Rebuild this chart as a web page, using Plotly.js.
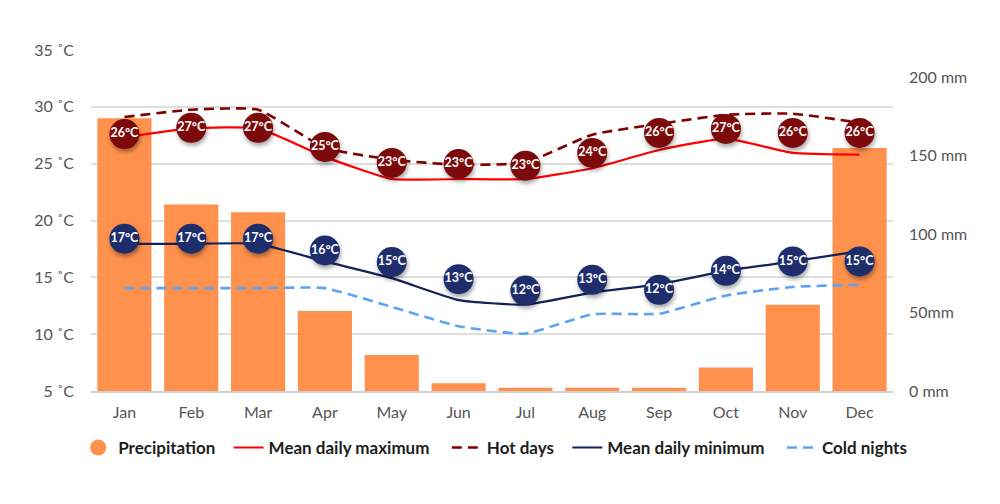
<!DOCTYPE html>
<html>
<head>
<meta charset="utf-8">
<script src="https://cdn.plot.ly/plotly-3.0.1.min.js"></script>
<style>
  html, body { margin: 0; padding: 0; background: #fff; }
  #chart { width: 1000px; height: 504px; }
</style>
</head>
<body>
<div id="chart"></div>
<script>
// ---- data ----
const months = ['Jan','Feb','Mar','Apr','May','Jun','Jul','Aug','Sep','Oct','Nov','Dec'];
const precipitation = [174, 119, 114, 51, 23, 5, 2, 2, 2, 15, 55, 155];            // mm
const meanDailyMax = [27.3, 28.1, 28.1, 25.6, 23.65, 23.65, 23.65, 24.6, 26.2, 27.2, 25.95, 25.8];
const hotDays      = [29.1, 29.75, 29.75, 26.4, 25.35, 24.9, 25.1, 27.55, 28.5, 29.3, 29.4, 28.6];
const meanDailyMin = [17.95, 17.95, 17.95, 16.4, 14.93, 13.0, 12.6, 13.66, 14.4, 15.57, 16.4, 17.3];
const coldNights   = [14.05, 14.05, 14.05, 14.05, 12.4, 10.7, 10.05, 11.75, 11.8, 13.4, 14.15, 14.35];
// badge values (rounded labels) and where the badges sit (°C)
const maxLabels = [26, 27, 27, 25, 23, 23, 23, 24, 26, 27, 26, 26];
const maxBadgeY = [27.6, 28.15, 28.15, 26.47, 25.06, 24.97, 24.82, 25.94, 27.7, 28.06, 27.7, 27.7];
const minLabels = [17, 17, 17, 16, 15, 13, 12, 13, 12, 14, 15, 15];
const minBadgeY = [18.4, 18.4, 18.4, 17.36, 16.34, 14.84, 13.84, 14.78, 13.9, 15.57, 16.4, 16.4];
// axis ticks
const tempTicks = [5, 10, 15, 20, 25, 30, 35];
const tempTickText = ['5 ˚C', '10 ˚C', '15 ˚C', '20 ˚C', '25 ˚C', '30 ˚C', '35 ˚C'];
const precipTicks = [0, 50, 100, 150, 200];
const precipTickText = ['0 mm', '50mm', '100 mm', '150 mm', '200 mm'];

const FONT = 'Lato, "Open Sans", sans-serif';
const C = {
  bar: '#FF914D', max: '#FF0000', hot: '#800000', min: '#14215A', cold: '#5BA4F2',
  badgeMax: '#7D0A0A', badgeMin: '#1E2D6B', tick: '#555555', grid: '#DEDEDE'
};
const NB = '\u00a0';
const SMOOTH = 0.45;

const traces = [
  { type: 'bar', x: months, y: precipitation, yaxis: 'y', name: 'Precipitation',
    marker: { color: C.bar }, showlegend: false, legendgroup: 'p', hoverinfo: 'x+y' },
  { type: 'scatter', mode: 'markers', x: [null], y: [null], yaxis: 'y', name: 'Precipitation' + NB + NB,
    marker: { color: C.bar, size: 16, symbol: 'circle' }, legendgroup: 'p' },
  { type: 'scatter', mode: 'lines', x: months, y: meanDailyMax, yaxis: 'y2', name: 'Mean daily maximum' + NB + NB + NB,
    line: { color: C.max, width: 2.2, shape: 'spline', smoothing: SMOOTH } },
  { type: 'scatter', mode: 'lines', x: months, y: hotDays, yaxis: 'y2', name: 'Hot days' + NB + NB,
    line: { color: C.hot, width: 2.6, shape: 'spline', smoothing: SMOOTH, dash: '10px,6px' } },
  { type: 'scatter', mode: 'lines', x: months, y: meanDailyMin, yaxis: 'y2', name: 'Mean daily minimum' + NB + NB + NB,
    line: { color: C.min, width: 2.2, shape: 'spline', smoothing: SMOOTH } },
  { type: 'scatter', mode: 'lines', x: months, y: coldNights, yaxis: 'y2', name: 'Cold nights',
    line: { color: C.cold, width: 2.6, shape: 'spline', smoothing: SMOOTH, dash: '10px,6px' } },
  { type: 'scatter', mode: 'markers+text', x: months, y: maxBadgeY, yaxis: 'y2', showlegend: false,
    text: maxLabels.map(v => v + '°C'), textposition: 'middle center',
    textfont: { family: FONT, size: 12.5, color: '#FFFFFF', weight: 'bold' },
    marker: { color: C.badgeMax, size: 30, line: { width: 0 } }, hoverinfo: 'text' },
  { type: 'scatter', mode: 'markers+text', x: months, y: minBadgeY, yaxis: 'y2', showlegend: false,
    text: minLabels.map(v => v + '°C'), textposition: 'middle center',
    textfont: { family: FONT, size: 12.5, color: '#FFFFFF', weight: 'bold' },
    marker: { color: C.badgeMin, size: 30, line: { width: 0 } }, hoverinfo: 'text' }
];

const layout = {
  width: 1000, height: 504,
  margin: { l: 91, r: 107, t: 50, b: 113, pad: 0 },
  paper_bgcolor: '#FFFFFF', plot_bgcolor: '#FFFFFF',
  font: { family: FONT, color: C.tick, size: 16 },
  bargap: 0.19,
  showlegend: true,
  legend: {
    orientation: 'h', x: -0.016, xanchor: 'left', y: -0.167, yanchor: 'middle',
    font: { family: FONT, size: 17, color: '#1E1E1E', weight: 'bold' },
    bgcolor: 'rgba(0,0,0,0)', traceorder: 'normal'
  },
  xaxis: {
    type: 'category', range: [-0.5, 11.5], showgrid: false, zeroline: false,
    showline: true, linecolor: '#D0D0D0', linewidth: 2,
    ticks: '', tickfont: { family: FONT, size: 16, color: C.tick }, ticklabelstandoff: 6,
    fixedrange: true
  },
  yaxis: {
    side: 'right', range: [0, 217.5], showgrid: false, zeroline: false, showline: false,
    tickvals: precipTicks, ticktext: precipTickText, ticks: '',
    tickfont: { family: FONT, size: 16, color: C.tick }, ticklabelstandoff: 15,
    fixedrange: true
  },
  yaxis2: {
    side: 'left', overlaying: 'y', range: [5, 35], showgrid: true, gridcolor: C.grid, gridwidth: 2,
    zeroline: false, showline: false, tickvals: tempTicks, ticktext: tempTickText, ticks: '',
    tickfont: { family: FONT, size: 16, color: C.tick }, ticklabelstandoff: 16,
    fixedrange: true
  }
};

Plotly.newPlot('chart', traces, layout, { displayModeBar: false, staticPlot: true }).then(function () {
  const traceGroups = document.querySelectorAll('.scatterlayer .trace');
  traceGroups.forEach(function (g, i) {
    if (i >= traceGroups.length - 2) {
      g.querySelectorAll('.points path').forEach(function (p) {
        p.style.filter = 'drop-shadow(1px 3px 2px rgba(0,0,0,0.35))';
      });
    }
  });
});
</script>
</body>
</html>
